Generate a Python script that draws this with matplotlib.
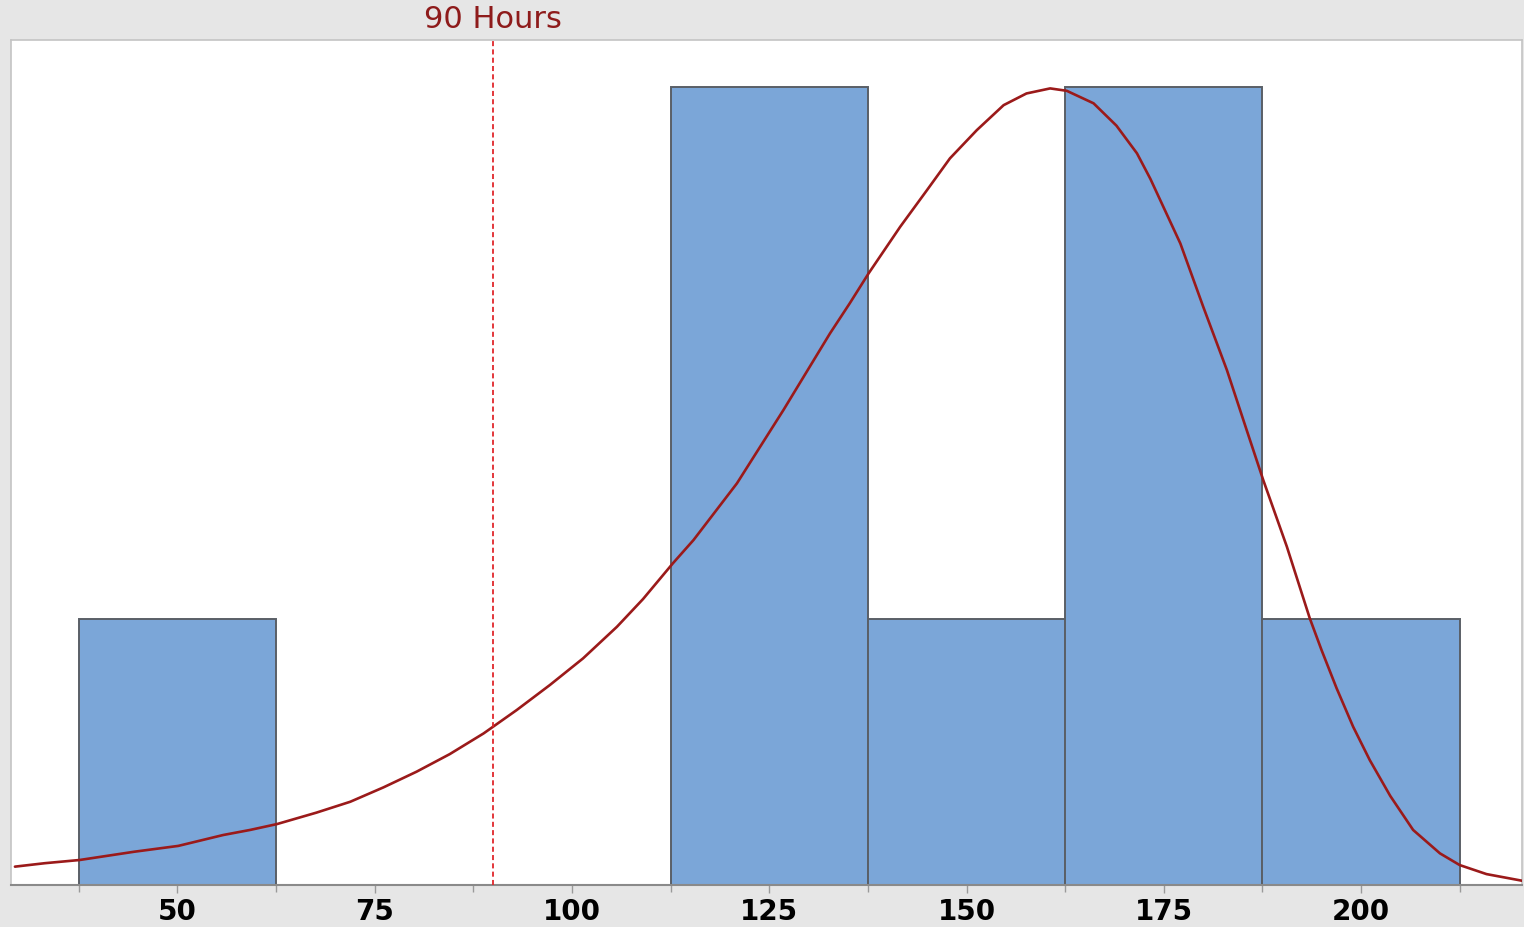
import matplotlib
matplotlib.use('Agg')
import matplotlib.pyplot as plt

# histogram bins (width 25) and counts
bin_edges = [37.5, 62.5, 87.5, 112.5, 137.5, 162.5, 187.5, 212.5]
counts = [1, 0, 0, 3, 1, 3, 1]

# fitted distribution curve (x in hours, y in counts)
curve_x = [29.4, 33.2, 37.6, 44.5, 50.1, 55.8, 59.2, 62.6, 67.6, 71.9, 76.1,
           80.3, 84.5, 88.8, 93.0, 97.2, 101.4, 105.7, 109.0, 112.8, 115.4,
           120.9, 126.8, 132.7, 135.2, 137.6, 141.6, 145.0, 147.9, 151.3, 154.7,
           157.6, 160.6, 162.7, 166.1, 169.0, 171.6, 173.3, 177.1, 180.0, 183.0,
           185.5, 187.6, 190.6, 193.5, 195.0, 196.9, 199.0, 201.1, 203.7, 206.6,
           210.0, 212.5, 215.9, 220.6]
curve_y = [0.069, 0.082, 0.094, 0.125, 0.147, 0.188, 0.207, 0.229, 0.272, 0.313, 0.367,
           0.426, 0.492, 0.570, 0.658, 0.752, 0.852, 0.971, 1.075, 1.210, 1.297,
           1.510, 1.786, 2.074, 2.187, 2.300, 2.475, 2.613, 2.732, 2.838, 2.932,
           2.976, 2.995, 2.986, 2.939, 2.855, 2.751, 2.655, 2.412, 2.174, 1.936,
           1.711, 1.523, 1.272, 1.003, 0.883, 0.740, 0.595, 0.470, 0.335, 0.207,
           0.119, 0.075, 0.041, 0.015]

ref_hours = 90
ref_label = '90 Hours'
major_ticks = [50, 75, 100, 125, 150, 175, 200]

bg = '#e6e6e6'
fig = plt.figure(figsize=(15.24, 9.27), dpi=100, facecolor=bg)
ax = fig.add_axes([11/1524, 42/927, 1511/1524, 845/927])
ax.set_facecolor('white')

lefts = bin_edges[:-1]
widths = [b - a for a, b in zip(bin_edges[:-1], bin_edges[1:])]
ax.bar(lefts, counts, width=widths, align='edge', color='#7ba6d8',
       edgecolor='#5a5f66', linewidth=1.4, zorder=2)

ax.plot(curve_x, curve_y, color='#9b1a1a', linewidth=1.9, zorder=3,
        solid_capstyle='round', solid_joinstyle='round')

ax.axvline(ref_hours, color='#e0262b', linewidth=1.3, dashes=(2.8, 1.8), zorder=4)
ax.text(ref_hours, 3.2, ref_label, color='#8e1b1b', fontsize=22,
        ha='center', va='bottom', clip_on=False)

ax.set_xlim(28.9, 220.4)
ax.set_ylim(0, 3.177)
ax.set_yticks([])
ax.set_xticks(major_ticks)
ax.set_xticks(bin_edges, minor=True)
ax.set_xticklabels([str(t) for t in major_ticks], fontsize=20, fontweight='bold')
ax.tick_params(axis='x', which='major', length=6, width=1, color='#9a9a9a', pad=3)
ax.tick_params(axis='x', which='minor', length=5, width=1, color='#9a9a9a')

for side in ['left', 'right', 'top']:
    ax.spines[side].set_color('#c4c4c4')
    ax.spines[side].set_linewidth(1.2)
ax.spines['bottom'].set_color('#8a8a8a')
ax.spines['bottom'].set_linewidth(1.5)

fig.savefig('out.png', dpi=100, facecolor=bg)
